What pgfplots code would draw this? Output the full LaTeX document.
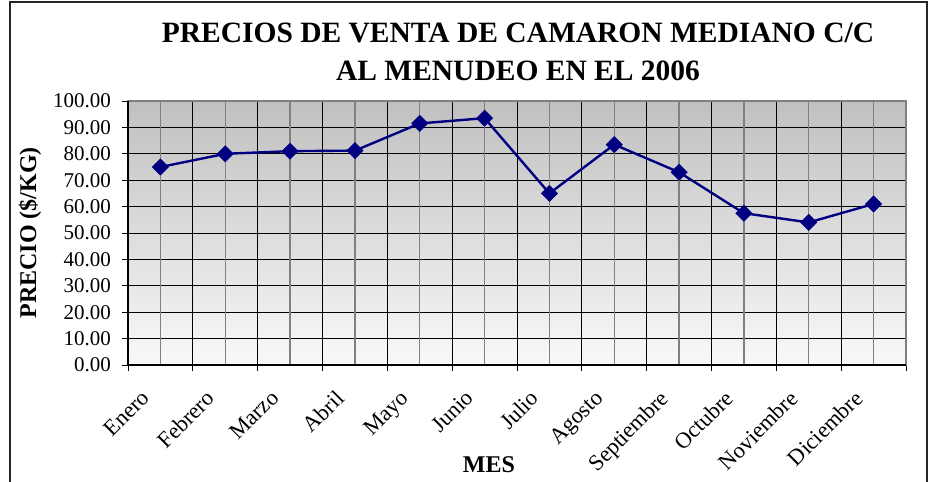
\documentclass[border=0pt]{standalone}
\usepackage{pgfplots}
\pgfplotsset{compat=1.18}
\usepackage{fontspec}
\setmainfont{Liberation Serif}
\definecolor{navyc}{RGB}{0,0,128}
\definecolor{topg}{RGB}{192,192,192}
\definecolor{botg}{RGB}{249,249,249}
\definecolor{gridg}{RGB}{128,128,128}
\begin{document}
\begin{tikzpicture}[x=1pt,y=1pt]
\useasboundingbox (0,0) rectangle (930,482);
\draw[line width=1.2pt, black!85] (10,0) -- (10,480) -- (927,480) -- (927,0);
\node[font=\bfseries\fontsize{29.5}{29.5}\selectfont] at (518,449) {PRECIOS DE VENTA DE CAMARON MEDIANO C/C};
\node[font=\bfseries\fontsize{29.5}{29.5}\selectfont] at (518,411) {AL MENUDEO EN EL 2006};
\node[font=\bfseries\fontsize{24}{24}\selectfont, rotate=90] at (30,249) {PRECIO (\$/KG)};
\node[font=\bfseries\fontsize{24}{24}\selectfont] at (489,17) {MES};
\begin{axis}[at={(128pt,117pt)}, anchor=south west, scale only axis,
 width=778pt, height=264pt,
 xmin=0.5, xmax=12.5, ymin=0, ymax=100,
 axis background/.style={top color=topg, bottom color=botg},
 xtick={0.5,1.5,...,12.5}, xticklabels={},
 extra x ticks={1,2,...,12},
 extra x tick labels={Enero,Febrero,Marzo,Abril,Mayo,Junio,Julio,Agosto,Septiembre,Octubre,Noviembre,Diciembre},
 extra x tick style={grid=major, major grid style={gridg, line width=1.4pt}, tick style={draw=none}},
 ytick={0,10,...,100},
 xtick pos=left, ytick pos=left,
 grid=major,
 major grid style={black, line width=0.8pt},
 tick align=outside, major tick length=6pt,
 tick style={black, line width=0.8pt},
 axis line style={gridg, line width=1.4pt},
 /pgf/number format/assume math mode=true,
 yticklabel style={font=\fontsize{21}{21}\selectfont, /pgf/number format/fixed, /pgf/number format/fixed zerofill, /pgf/number format/precision=2, inner sep=1pt, xshift=-10pt},
 xticklabel style={font=\fontsize{22.5}{22.5}\selectfont, rotate=45, anchor=north east, inner sep=1pt, xshift=-26pt, yshift=3pt},
 clip=false,
]
\addplot[navyc, line width=2.4pt, mark=square*, mark size=5.8pt, mark options={fill=navyc, draw=navyc, line width=0.4pt, rotate=45}]
 coordinates {(1,75) (2,80) (3,81) (4,81.2) (5,91.5) (6,93.5) (7,65) (8,83.5) (9,73) (10,57.5) (11,54) (12,61)};
\draw[black, line width=1.2pt] (rel axis cs:0,1) -- (rel axis cs:0,0) -- (rel axis cs:1,0);
\end{axis}
\end{tikzpicture}
\end{document}
